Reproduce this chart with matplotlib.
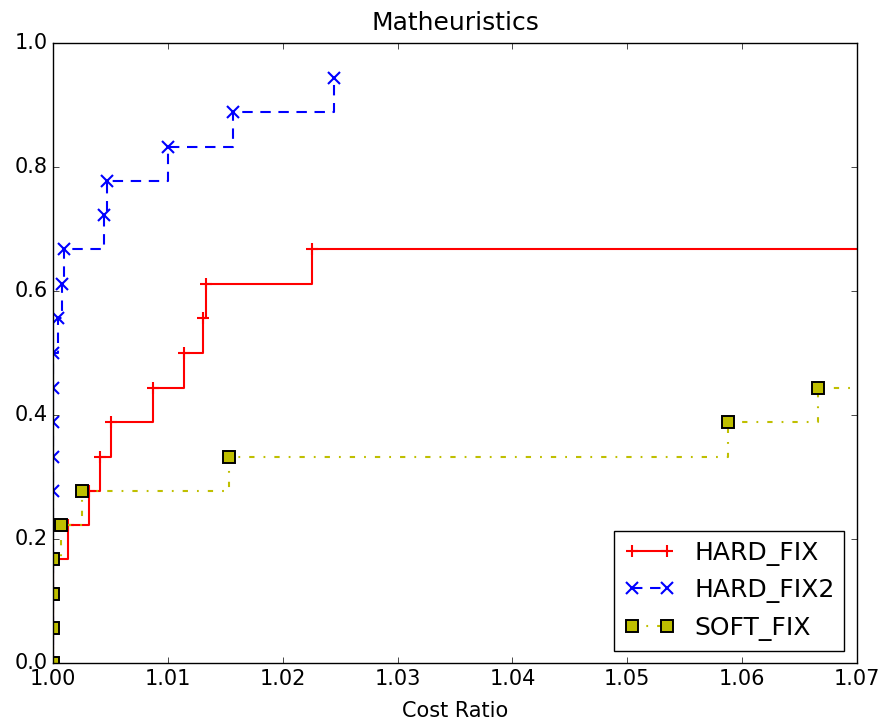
import matplotlib
matplotlib.use("Agg")
import matplotlib.pyplot as plt
from matplotlib.ticker import FormatStrFormatter

plt.style.use("classic")
plt.rcParams["font.size"] = 15

# performance profile: cost ratio vs. fraction of instances
hard_fix_x = [1.0, 1.0, 1.0, 1.0, 1.00128, 1.00316, 1.0041, 1.00505,
              1.00868, 1.01141, 1.01309, 1.01329, 1.02255, 1.09]
hard_fix_y = [0.0, 0.056, 0.111, 0.167, 0.222, 0.278, 0.333, 0.389,
              0.444, 0.5, 0.556, 0.611, 0.667, 0.722]

hard_fix2_x = [1.0, 1.0, 1.0, 1.0, 1.0, 1.0, 1.0, 1.0, 1.0, 1.0,
               1.00046, 1.00075, 1.00096, 1.00447, 1.00467, 1.01004,
               1.01564, 1.02449]
hard_fix2_y = [0.0, 0.056, 0.111, 0.167, 0.222, 0.278, 0.333, 0.389,
               0.444, 0.5, 0.556, 0.611, 0.667, 0.722, 0.778, 0.833,
               0.889, 0.944]

soft_fix_x = [1.0, 1.0, 1.0, 1.0, 1.00067, 1.00255, 1.01532, 1.05877,
              1.06663, 1.08]
soft_fix_y = [0.0, 0.056, 0.111, 0.167, 0.222, 0.278, 0.333, 0.389,
              0.444, 0.5]

xticks = [1.00, 1.01, 1.02, 1.03, 1.04, 1.05, 1.06, 1.07]
yticks = [0.0, 0.2, 0.4, 0.6, 0.8, 1.0]

fig = plt.figure(figsize=(8.86, 7.25), dpi=100)
ax = fig.add_axes([0.0598, 0.0855, 0.9074, 0.8552])

ax.plot(hard_fix_x, hard_fix_y, color="r", linestyle="-", lw=1.5,
        drawstyle="steps-post", marker="+", ms=8, mew=1.5, label="HARD_FIX")
ax.plot(hard_fix2_x, hard_fix2_y, color="b", linestyle=(0, (7.5, 5.5)), lw=1.5,
        drawstyle="steps-post", marker="x", ms=8, mew=1.5, label="HARD_FIX2")
ax.plot(soft_fix_x, soft_fix_y, color="y", linestyle=(0, (3.8, 6.5, 1.3, 6.5)),
        lw=1.5, drawstyle="steps-post", marker="s", ms=9, mew=1.4,
        mfc="y", mec="k", label="SOFT_FIX")

ax.set_xlim(1.0, 1.07)
ax.set_ylim(0.0, 1.0)
ax.set_xticks(xticks)
ax.set_yticks(yticks)
ax.xaxis.set_major_formatter(FormatStrFormatter("%.2f"))
ax.yaxis.set_major_formatter(FormatStrFormatter("%.1f"))
ax.set_xlabel("Cost Ratio", labelpad=9)
ax.set_title("Matheuristics", pad=9)
ax.legend(loc="lower right", numpoints=2)

fig.savefig("out.png", dpi=100)
